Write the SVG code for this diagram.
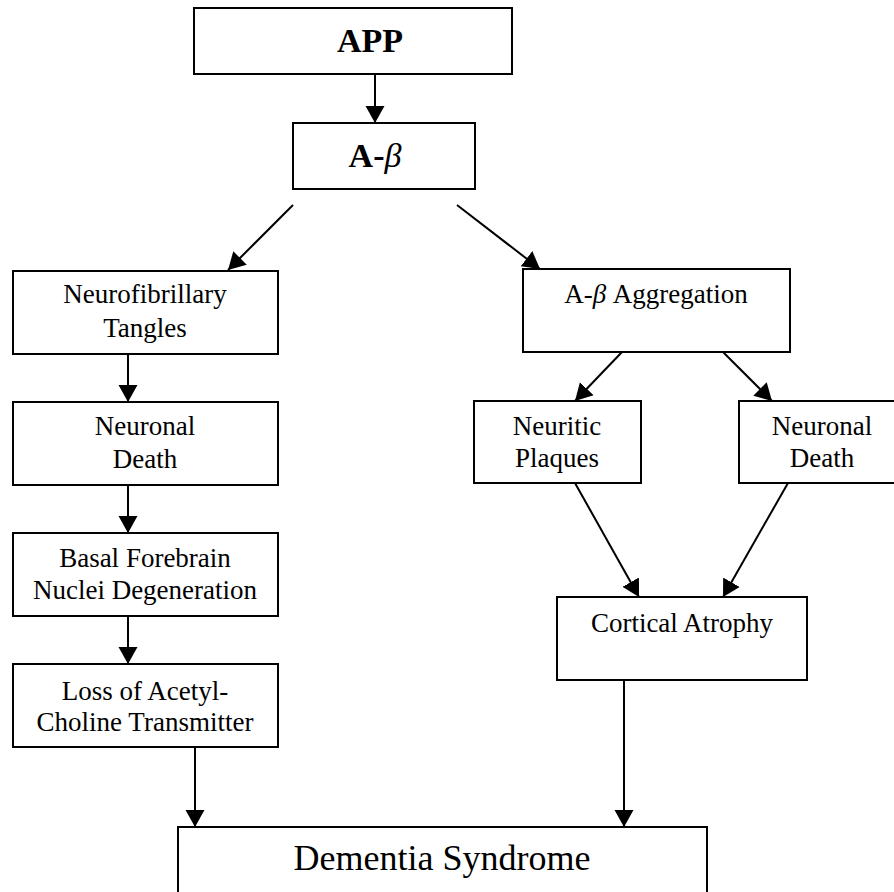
<svg xmlns="http://www.w3.org/2000/svg" width="894" height="892" viewBox="0 0 894 892">
<defs>
<marker id="ah" markerUnits="userSpaceOnUse" markerWidth="18" markerHeight="20" viewBox="0 0 18 20" refX="17" refY="10" orient="auto">
<path d="M0,0.5 L17,10 L0,19.5 Z" fill="#000"/>
</marker>
<style>
.box{fill:#fff;stroke:#000;stroke-width:2}
.t{font-family:"Liberation Serif","Times New Roman",serif;font-size:27px;fill:#000;text-anchor:middle}
.big{font-size:36px}
.b{font-weight:bold;font-size:34px}
.c{stroke:#000;stroke-width:2;fill:none;marker-end:url(#ah)}
</style>
</defs>
<rect width="894" height="892" fill="#fff"/>
<g id="connectors">
<line class="c" x1="375" y1="74" x2="375" y2="123"/>
<line class="c" x1="293" y1="205" x2="228" y2="270"/>
<line class="c" x1="457" y1="205" x2="540" y2="269"/>
<line class="c" x1="128" y1="354" x2="128" y2="402"/>
<line class="c" x1="128" y1="485" x2="128" y2="533"/>
<line class="c" x1="128" y1="616" x2="128" y2="664"/>
<line class="c" x1="195" y1="747" x2="195" y2="827"/>
<line class="c" x1="622" y1="352" x2="575" y2="401"/>
<line class="c" x1="723" y1="352" x2="772" y2="401"/>
<line class="c" x1="575" y1="483" x2="639" y2="597"/>
<line class="c" x1="788" y1="483" x2="723" y2="597"/>
<line class="c" x1="624" y1="680" x2="624" y2="827"/>
</g>
<g id="app">
<rect class="box" x="194" y="8" width="318" height="66"/>
<text class="t b" x="370" y="52">APP</text>
</g>
<g id="abeta">
<rect class="box" x="293" y="123" width="182" height="66"/>
<text class="t b" x="375" y="167">A-<tspan font-style="italic" font-weight="normal">β</tspan></text>
</g>
<g id="nft">
<rect class="box" x="13" y="271" width="265" height="83"/>
<text class="t" x="145" y="303">Neurofibrillary</text>
<text class="t" x="145" y="337">Tangles</text>
</g>
<g id="neuronal-death-left">
<rect class="box" x="13" y="402" width="265" height="83"/>
<text class="t" x="145" y="435">Neuronal</text>
<text class="t" x="145" y="468">Death</text>
</g>
<g id="basal">
<rect class="box" x="13" y="533" width="265" height="83"/>
<text class="t" x="145" y="567">Basal Forebrain</text>
<text class="t" x="145" y="599">Nuclei Degeneration</text>
</g>
<g id="loss">
<rect class="box" x="13" y="664" width="265" height="83"/>
<text class="t" x="145" y="700">Loss of Acetyl-</text>
<text class="t" x="145" y="731">Choline Transmitter</text>
</g>
<g id="aggregation">
<rect class="box" x="523" y="269" width="267" height="83"/>
<text class="t" x="656" y="303">A-<tspan font-style="italic">β</tspan> Aggregation</text>
</g>
<g id="plaques">
<rect class="box" x="474" y="401" width="167" height="82"/>
<text class="t" x="557" y="435">Neuritic</text>
<text class="t" x="557" y="467">Plaques</text>
</g>
<g id="neuronal-death-right">
<rect class="box" x="739" y="401" width="166" height="82"/>
<text class="t" x="822" y="435">Neuronal</text>
<text class="t" x="822" y="467">Death</text>
</g>
<g id="cortical">
<rect class="box" x="557" y="597" width="250" height="83"/>
<text class="t" x="682" y="632">Cortical Atrophy</text>
</g>
<g id="dementia">
<rect class="box" x="178" y="827" width="529" height="80"/>
<text class="t big" x="442" y="870">Dementia Syndrome</text>
</g>
</svg>
